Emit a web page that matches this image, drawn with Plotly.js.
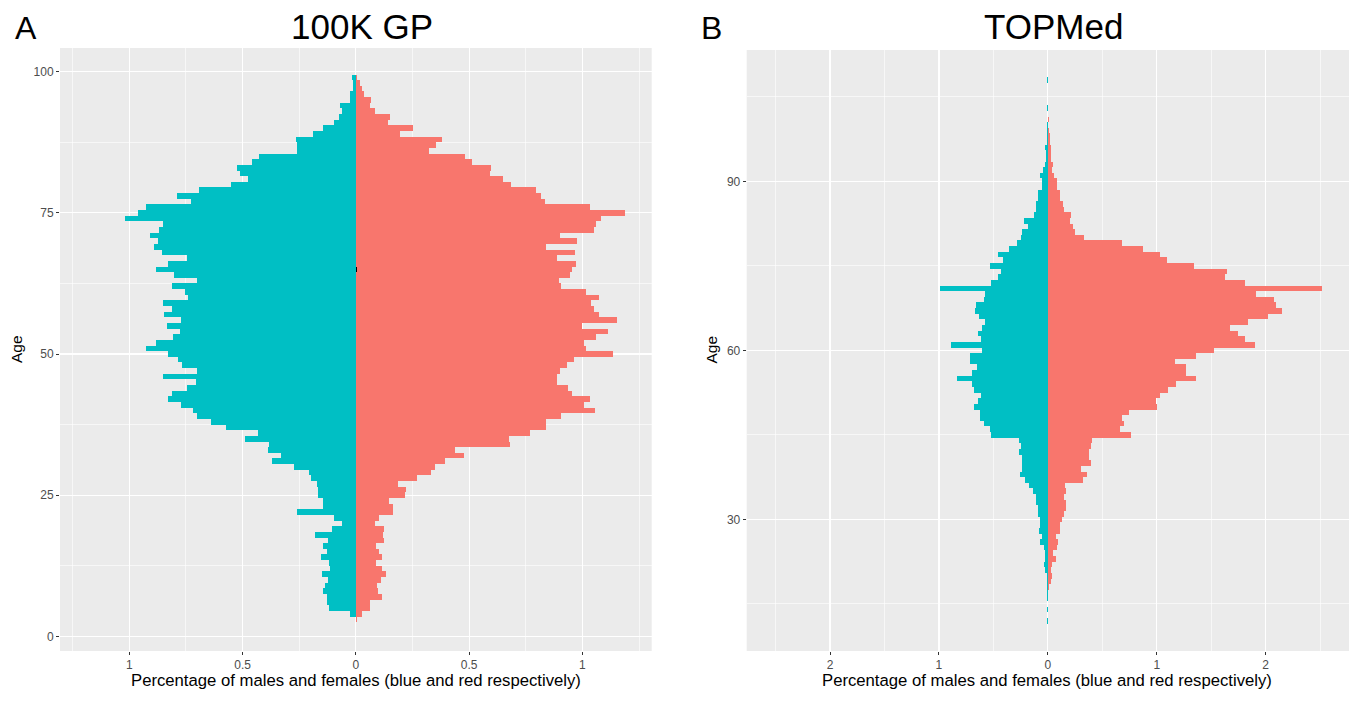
<!DOCTYPE html>
<html>
<head>
<meta charset="utf-8">
<script src="https://cdn.plot.ly/plotly-3.0.1.min.js"></script>
<style>
html,body{margin:0;padding:0;background:#fff;}
#chart{width:1357px;height:701px;}
</style>
</head>
<body>
<div id="chart"></div>
<script>
// ---------- Panel A: 100K GP ----------
const agesA = [3,4,5,6,7,8,9,10,11,12,13,14,15,16,17,18,19,20,21,22,23,24,25,26,27,28,29,30,31,32,33,34,35,36,37,38,39,40,41,42,43,44,45,46,47,48,49,50,51,52,53,54,55,56,57,58,59,60,61,62,63,64,65,66,67,68,69,70,71,72,73,74,75,76,77,78,79,80,81,82,83,84,85,86,87,88,89,90,91,92,93,94,95,96,97,98,99];
const malesA = [0,0.025,0.118,0.127,0.127,0.145,0.135,0.123,0.149,0.113,0.118,0.154,0.127,0.145,0.123,0.181,0.105,0.061,0.096,0.26,0.145,0.145,0.167,0.167,0.171,0.198,0.206,0.275,0.37,0.329,0.387,0.383,0.49,0.432,0.573,0.638,0.701,0.718,0.772,0.829,0.811,0.745,0.706,0.851,0.701,0.767,0.785,0.829,0.926,0.882,0.806,0.775,0.833,0.772,0.846,0.811,0.851,0.74,0.753,0.811,0.701,0.802,0.882,0.829,0.745,0.855,0.89,0.873,0.909,0.868,0.851,1.018,0.961,0.926,0.728,0.789,0.692,0.551,0.476,0.512,0.524,0.458,0.427,0.26,0.26,0.263,0.189,0.145,0.096,0.074,0.061,0.069,0.025,0.025,0.012,0.012,0.017];
const femalesA = [0.005,0.025,0.061,0.061,0.115,0.096,0.093,0.11,0.132,0.115,0.088,0.115,0.101,0.088,0.123,0.118,0.123,0.084,0.103,0.162,0.162,0.145,0.216,0.22,0.184,0.27,0.331,0.35,0.392,0.476,0.436,0.679,0.674,0.767,0.838,0.838,0.904,1.054,1.005,1.032,0.953,0.936,0.887,0.89,0.9,0.931,0.961,1.133,1.017,1.005,1.059,1.111,0.997,1.152,1.073,1.051,1.04,1.073,1.017,0.904,0.895,0.944,0.953,0.97,0.89,0.967,0.838,0.975,0.9,1.051,1.059,1.081,1.187,1.032,0.834,0.816,0.794,0.686,0.65,0.593,0.596,0.512,0.48,0.321,0.355,0.38,0.194,0.252,0.142,0.149,0.084,0.062,0.066,0.034,0.025,0.017,0.003];
const otherAgesA = [65];
const otherA = [0.005];

// ---------- Panel B: TOPMed ----------
const agesB = [12,13,14,15,16,17,18,19,20,21,22,23,24,25,26,27,28,29,30,31,32,33,34,35,36,37,38,39,40,41,42,43,44,45,46,47,48,49,50,51,52,53,54,55,56,57,58,59,60,61,62,63,64,65,66,67,68,69,70,71,72,73,74,75,76,77,78,79,80,81,82,83,84,85,86,87,88,89,90,91,92,93,94,95,96,97,98,99,100,101,102,103,104,105,106,107,108];
const malesB = [0.006,0,0.006,0,0.008,0.006,0.009,0.009,0.009,0.028,0.037,0.028,0.028,0.037,0.073,0.055,0.083,0.073,0.073,0.092,0.092,0.11,0.11,0.138,0.174,0.211,0.257,0.239,0.239,0.239,0.266,0.248,0.266,0.523,0.532,0.587,0.624,0.624,0.679,0.642,0.615,0.679,0.697,0.835,0.697,0.651,0.716,0.716,0.606,0.89,0.615,0.642,0.606,0.578,0.633,0.67,0.661,0.587,0.578,0.991,0.523,0.459,0.431,0.532,0.413,0.459,0.358,0.284,0.248,0.238,0.183,0.22,0.128,0.11,0.11,0.092,0.092,0.055,0.055,0.073,0.046,0.028,0.018,0.018,0.028,0.004,0.004,0.012,0.006,0,0,0.006,0,0,0,0,0.006];
const femalesB = [0,0,0,0,0,0,0.009,0.028,0.037,0.028,0.037,0.073,0.046,0.083,0.092,0.073,0.11,0.11,0.128,0.147,0.165,0.165,0.147,0.165,0.156,0.321,0.358,0.303,0.394,0.376,0.376,0.394,0.404,0.761,0.661,0.697,0.679,0.743,1.0,0.991,1.028,1.101,1.174,1.358,1.266,1.266,1.165,1.358,1.523,1.899,1.807,1.743,1.67,1.835,2.018,2.147,2.092,2.073,1.908,2.514,1.807,1.624,1.642,1.339,1.092,1.028,0.872,0.679,0.33,0.248,0.229,0.202,0.211,0.147,0.138,0.11,0.11,0.083,0.083,0.055,0.037,0.046,0.028,0.028,0.028,0.018,0.018,0.006,0,0.008,0,0,0,0,0,0,0];

// ---------- labels ----------
const titleA = '100K GP', titleB = 'TOPMed';
const xTitle = 'Percentage of males and females (blue and red respectively)';
const yTitle = 'Age';
const xTicksA = [-1,-0.5,0,0.5,1], xTickTextA = ['1','0.5','0','0.5','1'];
const xTicksB = [-2,-1,0,1,2], xTickTextB = ['2','1','0','1','2'];
const yTicksA = [0,25,50,75,100];
const yTicksB = [30,60,90];

const BLUE = '#00BFC4', RED = '#F8766D';
const W = 1357, H = 701;
const px = v => v / W, py = v => 1 - v / H;

function barTrace(ages, vals, sign, color, xa, ya) {
  return {
    type: 'bar', orientation: 'h',
    y: ages, x: vals.map(v => sign * v),
    width: 1, xaxis: xa, yaxis: ya,
    marker: {color: color, line: {width: 0}},
    hoverinfo: 'skip'
  };
}

const data = [
  barTrace(agesA, malesA, -1, BLUE, 'x', 'y'),
  barTrace(agesA, femalesA, 1, RED, 'x', 'y'),
  barTrace(otherAgesA, otherA, 1, '#000000', 'x', 'y'),
  barTrace(agesB, malesB, -1, BLUE, 'x2', 'y2'),
  barTrace(agesB, femalesB, 1, RED, 'x2', 'y2')
];

const tickFont = {family: 'Liberation Sans, Arial, sans-serif', size: 12, color: '#4D4D4D'};
function axisBase(extra) {
  return Object.assign({
    ticks: 'outside', ticklen: 3, tickwidth: 1, tickcolor: '#333333',
    showgrid: true, gridcolor: '#FFFFFF', gridwidth: 1.2,
    zeroline: false, showline: false, tickfont: tickFont,
    fixedrange: true, automargin: false
  }, extra);
}

const layout = {
  width: W, height: H,
  margin: {l: 0, r: 0, t: 0, b: 0, pad: 0},
  paper_bgcolor: '#FFFFFF', plot_bgcolor: '#EBEBEB',
  barmode: 'overlay', bargap: 0, showlegend: false,
  font: {family: 'Liberation Sans, Arial, sans-serif', color: '#000000'},
  xaxis: axisBase({
    domain: [px(60), px(651.7)], range: [-1.306, 1.306], anchor: 'y',
    tickmode: 'array', tickvals: xTicksA, ticktext: xTickTextA,
    minor: {tickmode: 'array', tickvals: [-1.25,-0.75,-0.25,0.25,0.75,1.25], showgrid: true, gridcolor: '#FFFFFF', gridwidth: 0.6, ticks: ''}
  }),
  yaxis: axisBase({
    domain: [py(651), py(48)], range: [-2.6, 104.2], anchor: 'x',
    tickmode: 'array', tickvals: yTicksA,
    minor: {tickmode: 'array', tickvals: [12.5,37.5,62.5,87.5], showgrid: true, gridcolor: '#FFFFFF', gridwidth: 0.6, ticks: ''}
  }),
  xaxis2: axisBase({
    domain: [px(746.7), px(1349)], range: [-2.765, 2.765], anchor: 'y2',
    tickmode: 'array', tickvals: xTicksB, ticktext: xTickTextB,
    minor: {tickmode: 'array', tickvals: [-2.5,-1.5,-0.5,0.5,1.5,2.5], showgrid: true, gridcolor: '#FFFFFF', gridwidth: 0.6, ticks: ''}
  }),
  yaxis2: axisBase({
    domain: [py(651), py(50)], range: [6.65, 113.3], anchor: 'x2',
    tickmode: 'array', tickvals: yTicksB,
    minor: {tickmode: 'array', tickvals: [15,45,75,105], showgrid: true, gridcolor: '#FFFFFF', gridwidth: 0.6, ticks: ''}
  }),
  annotations: [
    {text: 'A', x: px(26), y: py(28), xref: 'paper', yref: 'paper', xanchor: 'center', yanchor: 'middle', showarrow: false, font: {size: 32, color: '#000'}},
    {text: 'B', x: px(711), y: py(28), xref: 'paper', yref: 'paper', xanchor: 'center', yanchor: 'middle', showarrow: false, font: {size: 32, color: '#000'}},
    {text: titleA, x: px(361.5), y: py(27), xref: 'paper', yref: 'paper', xanchor: 'center', yanchor: 'middle', showarrow: false, font: {size: 35, color: '#000'}},
    {text: titleB, x: px(1053), y: py(27), xref: 'paper', yref: 'paper', xanchor: 'center', yanchor: 'middle', showarrow: false, font: {size: 35, color: '#000'}},
    {text: xTitle, x: px(356), y: py(680.5), xref: 'paper', yref: 'paper', xanchor: 'center', yanchor: 'middle', showarrow: false, font: {size: 16.7, color: '#000'}},
    {text: xTitle, x: px(1047), y: py(680.5), xref: 'paper', yref: 'paper', xanchor: 'center', yanchor: 'middle', showarrow: false, font: {size: 16.7, color: '#000'}},
    {text: yTitle, x: px(16), y: py(349), xref: 'paper', yref: 'paper', xanchor: 'center', yanchor: 'middle', textangle: -90, showarrow: false, font: {size: 15.5, color: '#000'}},
    {text: yTitle, x: px(710.5), y: py(350), xref: 'paper', yref: 'paper', xanchor: 'center', yanchor: 'middle', textangle: -90, showarrow: false, font: {size: 15.5, color: '#000'}}
  ]
};

Plotly.newPlot('chart', data, layout, {displayModeBar: false, staticPlot: true});
</script>
</body>
</html>
